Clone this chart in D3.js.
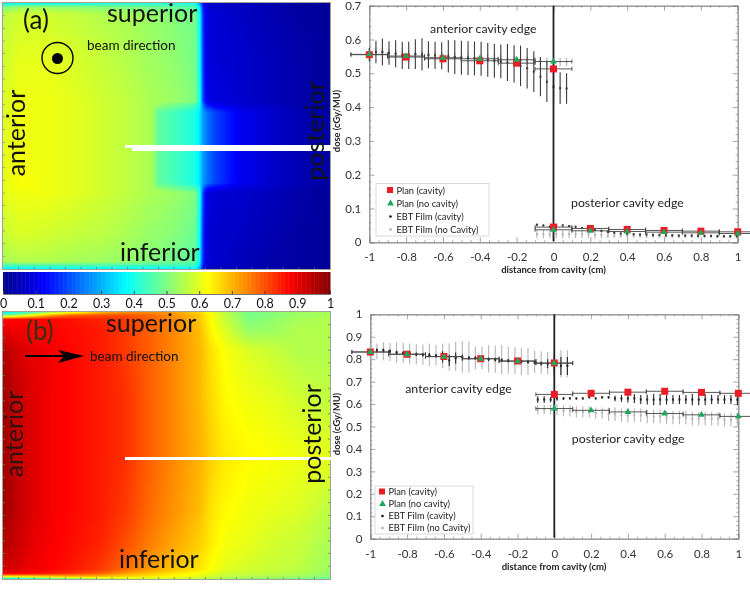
<!DOCTYPE html>
<html><head><meta charset="utf-8">
<script src="https://cdn.jsdelivr.net/npm/d3@7"></script>
<style>
html,body{margin:0;padding:0;background:#fff;width:750px;height:591px;overflow:hidden}
#stage{position:relative;width:750px;height:591px;filter:blur(0.35px)}
canvas{position:absolute}
svg{position:absolute;left:0;top:0}
text{font-family:Lato,"Open Sans",sans-serif}
</style></head><body><div id="stage"></div>
<script>
// ---------- colour bar ----------
const jetStops = [0, 0.125, 0.375, 0.625, 0.875, 1];
const jetColors = ["#00008f", "#0000ff", "#00ffff", "#ffff00", "#ff0000", "#800000"];
const barTicks = [0, 0.1, 0.2, 0.3, 0.4, 0.5, 0.6, 0.7, 0.8, 0.9, 1];

// ---------- film dose map (a), percent of panel width / height ----------
const mapAx = [0, 5.2, 12.8, 20.5, 29.7, 38.8, 45.6, 47.4, 54.1, 58.7, 60.2, 61.2, 62.4, 64.8, 72.5, 81.7, 90.8, 100];
const mapAy = [0, 1.5, 4.1, 21.4, 36.8, 38.3, 41, 54.1, 67.7, 69.9, 71.4, 87.2, 97.4, 98.9, 100];
const mapA = [
 [.39,.39,.40,.40,.41,.41,.41,.41,.41,.40,.28,.13,.07,.06,.05,.04,.02,.01],
 [.50,.53,.53,.52,.51,.50,.49,.49,.47,.46,.36,.16,.08,.07,.06,.04,.02,.01],
 [.56,.58,.58,.57,.55,.54,.52,.52,.50,.49,.39,.18,.09,.08,.06,.04,.02,.01],
 [.58,.60,.60,.59,.57,.55,.53,.53,.51,.49,.39,.19,.09,.08,.07,.05,.03,.01],
 [.59,.61,.61,.60,.58,.56,.54,.54,.52,.50,.40,.20,.10,.09,.07,.05,.03,.01],
 [.59,.61,.61,.60,.58,.56,.54,.52,.48,.45,.38,.24,.15,.11,.08,.06,.03,.01],
 [.59,.61,.61,.60,.58,.56,.54,.47,.43,.40,.35,.28,.24,.19,.11,.07,.04,.02],
 [.60,.61,.61,.60,.58,.56,.54,.47,.43,.40,.35,.28,.24,.19,.11,.07,.04,.02],
 [.60,.62,.61,.60,.58,.56,.54,.47,.43,.40,.35,.28,.24,.19,.11,.07,.04,.02],
 [.60,.62,.61,.60,.58,.56,.54,.52,.48,.45,.38,.23,.14,.11,.08,.06,.03,.01],
 [.60,.61,.61,.60,.58,.56,.54,.54,.52,.50,.40,.20,.09,.08,.07,.05,.03,.01],
 [.57,.59,.58,.57,.56,.54,.52,.52,.50,.48,.38,.18,.08,.07,.06,.04,.02,.01],
 [.54,.55,.55,.54,.53,.52,.50,.50,.48,.47,.37,.17,.08,.07,.05,.03,.02,.01],
 [.44,.45,.45,.45,.45,.44,.44,.44,.44,.43,.33,.15,.07,.06,.05,.03,.02,.01],
 [.38,.38,.38,.38,.38,.38,.38,.38,.38,.38,.29,.13,.06,.05,.04,.03,.02,.01]
];

// ---------- film dose map (b) ----------
const mapBx = [0, 3.7, 8.3, 14.4, 20.5, 29.7, 37.3, 45, 52.6, 60.2, 63.9, 67.9, 75.5, 83.2, 90.8, 100];
const mapBy = [0, 1.1, 2.6, 6.7, 14.2, 33, 53.6, 74.2, 87.3, 96.6, 98.1, 99.3, 100];
const mapB = [
 [.38,.40,.45,.55,.62,.70,.74,.74,.72,.66,.61,.56,.49,.51,.53,.54],
 [.50,.55,.62,.72,.78,.80,.80,.77,.73,.68,.62,.57,.49,.51,.53,.54],
 [.86,.87,.87,.87,.86,.84,.82,.78,.74,.68,.62,.57,.50,.52,.54,.55],
 [.90,.89,.88,.875,.865,.85,.82,.78,.74,.69,.63,.59,.52,.53,.55,.55],
 [.95,.92,.90,.885,.87,.85,.82,.78,.74,.695,.65,.62,.59,.57,.55,.55],
 [.97,.94,.91,.885,.87,.85,.83,.78,.74,.695,.66,.63,.61,.60,.58,.56],
 [.97,.94,.91,.885,.87,.85,.83,.78,.74,.70,.67,.645,.63,.62,.61,.60],
 [.97,.94,.91,.885,.87,.85,.82,.77,.73,.69,.65,.63,.61,.60,.59,.56],
 [.95,.93,.90,.88,.865,.84,.80,.75,.71,.67,.64,.615,.60,.58,.57,.54],
 [.92,.91,.89,.875,.855,.82,.77,.72,.68,.65,.62,.60,.58,.57,.56,.53],
 [.88,.88,.87,.85,.83,.78,.72,.68,.65,.62,.60,.58,.57,.56,.55,.52],
 [.62,.63,.64,.66,.68,.68,.66,.64,.62,.60,.58,.56,.55,.54,.53,.50],
 [.42,.42,.44,.48,.52,.56,.58,.58,.58,.56,.55,.54,.52,.52,.50,.48]
];

// ---------- line profile data ----------
const xTicks = [-1, -0.8, -0.6, -0.4, -0.2, 0, 0.2, 0.4, 0.6, 0.8, 1];
const xMinor = [-.95,-.9,-.85,-.75,-.7,-.65,-.55,-.5,-.45,-.35,-.3,-.25,-.15,-.1,-.05,.05,.1,.15,.25,.3,.35,.45,.5,.55,.65,.7,.75,.85,.9,.95];
const yTicksTop = [0, 0.1, 0.2, 0.3, 0.4, 0.5, 0.6, 0.7];
const yTicksBottom = [0, 0.1, 0.2, 0.3, 0.4, 0.5, 0.6, 0.7, 0.8, 0.9, 1];
const yMinor = [.02,.04,.06,.08,.12,.14,.16,.18,.22,.24,.26,.28,.32,.34,.36,.38,.42,.44,.46,.48,.52,.54,.56,.58,.62,.64,.66,.68,.72,.74,.76,.78,.82,.84,.86,.88,.92,.94,.96,.98];

const planXant = [-1, -0.8, -0.6, -0.4, -0.2, 0];
const planXpost = [0, 0.2, 0.4, 0.6, 0.8, 1];
const planHalfWidth = 0.1;

const filmXant = [-1,-.964,-.929,-.893,-.857,-.821,-.786,-.75,-.714,-.679,-.643,-.607,-.571,-.536,-.5,-.464,-.429,-.393,-.357,-.321,-.286,-.25,-.214,-.179,-.143,-.107,-.071,-.036,0,.036,.071];
const filmXpost = [-.09,-.055,-.02,.015,.05,.085,.12,.155,.19,.225,.26,.295,.33,.365,.40,.435,.47,.505,.54,.575,.61,.645,.68,.715,.75,.785,.82,.855,.89,.925,.96,.995];

// panel (a) profiles
const aPlanCavAnt = [.555,.548,.543,.537,.53,.513];
const aPlanNoAnt = [.556,.551,.546,.543,.54,.535];
const aPlanCavPost = [.045,.041,.038,.035,.033,.031];
const aPlanNoPost = [.037,.034,.032,.03,.028,.026];
const aFilmCavAnt = [.555,.563,.563,.56,.558,.553,.553,.557,.556,.555,.553,.552,.55,.548,.546,.545,.544,.543,.54,.537,.535,.532,.528,.522,.515,.505,.49,.475,.46,.456,.455];
const aFilmCavAntErr = [.02,.033,.04,.035,.04,.04,.04,.044,.048,.04,.04,.04,.048,.05,.05,.05,.05,.05,.05,.05,.05,.055,.055,.06,.06,.06,.058,.06,.05,.047,.045];
const aFilmNoAnt = [.56,.565,.565,.56,.558,.557,.556,.556,.555,.553,.552,.551,.55,.549,.548,.547,.546,.545,.544,.543,.542,.541,.54,.539,.538,.537,.536,.535,.534,.533,.533];
const aFilmNoAntErr = [.012,.012,.012,.012,.012,.012,.012,.012,.012,.012,.012,.012,.012,.012,.012,.012,.012,.012,.012,.012,.012,.012,.012,.012,.012,.012,.012,.012,.012,.012,.012];
const aFilmCavPost = [.052,.05,.046,.05,.05,.048,.046,.042,.04,.037,.034,.031,.028,.026,.025,.024,.023,.023,.022,.022,.021,.021,.02,.02,.02,.019,.019,.019,.018,.018,.018,.018];
const aFilmCavPostErr = [.003,.003,.003,.003,.003,.003,.003,.003,.003,.003,.003,.003,.003,.003,.003,.003,.003,.003,.003,.003,.003,.003,.003,.003,.003,.003,.003,.003,.003,.003,.003,.003];
const aFilmNoPost = [.024,.024,.024,.024,.024,.024,.024,.024,.023,.022,.021,.02,.019,.018,.018,.018,.018,.017,.017,.017,.017,.017,.017,.017,.017,.017,.017,.017,.017,.017,.017,.017];
const aFilmNoPostErr = [.012,.012,.012,.012,.012,.012,.012,.012,.012,.011,.01,.008,.006,.004,.004,.004,.004,.004,.004,.004,.004,.004,.004,.004,.004,.004,.004,.004,.004,.004,.004,.004];

// panel (b) profiles
const bPlanCavAnt = [.832,.822,.812,.802,.792,.783];
const bPlanNoAnt = [.832,.822,.811,.802,.791,.782];
const bPlanCavPost = [.643,.648,.653,.657,.652,.648];
const bPlanNoPost = [.58,.572,.565,.558,.552,.545];
const bFilmNoAnt = [.833,.835,.835,.832,.83,.828,.825,.822,.82,.82,.818,.815,.81,.812,.81,.81,.806,.805,.802,.80,.798,.795,.793,.79,.79,.788,.785,.782,.78,.78,.78];
const bFilmNoAntErr = [.035,.035,.04,.04,.045,.045,.045,.045,.045,.05,.045,.055,.06,.065,.07,.07,.05,.05,.06,.06,.065,.06,.06,.06,.06,.05,.05,.05,.05,.06,.06];
const bFilmCavAnt = [.835,.84,.84,.835,.83,.827,.825,.822,.82,.818,.815,.81,.795,.805,.81,.805,.805,.803,.80,.798,.795,.793,.79,.79,.788,.785,.78,.78,.775,.77,.77];
const bFilmCavAntErr = [.008,.008,.008,.008,.008,.008,.008,.008,.008,.008,.008,.025,.025,.025,.008,.008,.008,.008,.008,.008,.008,.008,.008,.008,.008,.008,.008,.02,.04,.04,.04];
const bFilmCavPost = [.62,.62,.62,.625,.625,.625,.625,.625,.63,.625,.63,.63,.625,.625,.625,.625,.62,.62,.62,.62,.62,.62,.62,.62,.62,.62,.62,.62,.62,.62,.62,.62];
const bFilmCavPostErr = [.015,.015,.012,.01,.006,.004,.005,.005,.004,.004,.005,.005,.012,.015,.018,.02,.02,.022,.025,.025,.022,.02,.02,.02,.025,.025,.025,.02,.02,.02,.02,.025];
const bFilmNoPost = [.575,.575,.575,.575,.57,.57,.565,.565,.565,.56,.56,.555,.555,.55,.55,.55,.55,.545,.545,.545,.54,.54,.54,.54,.535,.535,.535,.535,.535,.53,.53,.53];
const bFilmNoPostErr = [.022,.022,.022,.025,.025,.025,.025,.025,.025,.025,.025,.03,.03,.03,.03,.03,.03,.03,.03,.03,.03,.03,.03,.03,.03,.03,.03,.03,.03,.03,.03,.03];

const legendLabels = ["Plan (cavity)", "Plan (no cavity)", "EBT Film (cavity)", "EBT Film (no Cavity)"];

// ---------- drawing ----------
const jet = d3.scaleLinear().domain(jetStops).range(jetColors).clamp(true);
const stage = d3.select("#stage");
const svg = stage.append("svg").attr("width", 750).attr("height", 591).style("z-index", 2);

function drawMap(xs, ys, grid, box) {
  const cv = stage.append("canvas").attr("width", box.w).attr("height", box.h)
    .style("left", box.x + "px").style("top", box.y + "px").node();
  const ctx = cv.getContext("2d"), img = ctx.createImageData(box.w, box.h);
  const pxX = d3.scaleLinear().domain([0, box.w - 1]).range([0, 100]);
  const pxY = d3.scaleLinear().domain([0, box.h - 1]).range([0, 100]);
  const ix = d3.scaleLinear().domain(xs).range(d3.range(xs.length));
  const iy = d3.scaleLinear().domain(ys).range(d3.range(ys.length));
  for (let j = 0; j < box.h; j++) {
    const fy = iy(pxY(j)), y0 = Math.min(Math.floor(fy), ys.length - 2), ty = fy - y0;
    for (let i = 0; i < box.w; i++) {
      const fx = ix(pxX(i)), x0 = Math.min(Math.floor(fx), xs.length - 2), tx = fx - x0;
      const v = (grid[y0][x0] * (1 - tx) + grid[y0][x0 + 1] * tx) * (1 - ty) +
                (grid[y0 + 1][x0] * (1 - tx) + grid[y0 + 1][x0 + 1] * tx) * ty;
      const c = d3.rgb(jet(v)), k = (j * box.w + i) * 4;
      img.data[k] = c.r; img.data[k + 1] = c.g; img.data[k + 2] = c.b; img.data[k + 3] = 255;
    }
  }
  ctx.putImageData(img, 0, 0);
  // small ticks along the film edges
  const g = svg.append("g");
  const sx = d3.scaleLinear().domain([0, 100]).range([box.x, box.x + box.w]);
  const sy = d3.scaleLinear().domain([0, 100]).range([box.y, box.y + box.h]);
  const tickPct = d3.range(0, 101, 100 / 21).slice(1, -1);
  g.selectAll(".l").data(tickPct).join("line").attr("class", "l")
    .attr("x1", box.x - 0.5).attr("x2", box.x + 2).attr("y1", d => sy(d)).attr("y2", d => sy(d))
    .attr("stroke", "#7d8a60").attr("stroke-width", 0.7);
  g.selectAll(".b").data(tickPct).join("line").attr("class", "b")
    .attr("y1", box.y + box.h - 2).attr("y2", box.y + box.h).attr("x1", d => sx(d)).attr("x2", d => sx(d))
    .attr("stroke", "#5a6a60").attr("stroke-width", 0.7);
  if (box.right) g.selectAll(".r").data(tickPct).join("line").attr("class", "r")
    .attr("x1", box.x + box.w - 2).attr("x2", box.x + box.w).attr("y1", d => sy(d)).attr("y2", d => sy(d))
    .attr("stroke", "#5a6a50").attr("stroke-width", 0.7);
  g.append("rect").attr("x", box.x - .5).attr("y", box.y - .5).attr("width", box.w + 1).attr("height", box.h + 1)
    .attr("fill", "none").attr("stroke", "#8a8a7a").attr("stroke-width", 0.8);
}

drawMap(mapAx, mapAy, mapA, {x: 3, y: 3, w: 327, h: 266});
drawMap(mapBx, mapBy, mapB, {x: 3, y: 312, w: 327, h: 267, right: true});

// colour bar
const cbX = d3.scaleLinear().domain([0, 1]).range([3, 330]);
svg.append("g").selectAll("rect").data(d3.range(0, 1, 0.004)).join("rect")
  .attr("x", d => cbX(d)).attr("y", 272).attr("width", cbX(0.004) - cbX(0) + 0.5).attr("height", 22)
  .attr("fill", d => jet(d));
const cbAxis = svg.append("g").attr("transform", "translate(0,294)")
  .call(d3.axisBottom(cbX).tickValues(barTicks).tickFormat(d => String(d)).tickSize(-3).tickPadding(5));
cbAxis.select(".domain").attr("stroke", "#777");
cbAxis.selectAll("line").attr("stroke", "#444");
cbAxis.selectAll("text").attr("font-size", 12.5).attr("fill", "#111");

function label(t, x, y, size, opts = {}) {
  const e = svg.append("text").text(t).attr("font-size", size).attr("fill", opts.fill || "#111")
    .attr("text-anchor", opts.anchor || "start").attr("font-weight", opts.weight || 400);
  if (opts.rot) e.attr("transform", `translate(${x},${y}) rotate(-90)`).attr("text-anchor", "middle").attr("dominant-baseline", "middle");
  else e.attr("x", x).attr("y", y);
  return e;
}

// slits
svg.append("rect").attr("x", 125).attr("y", 145).attr("width", 206).attr("height", 3).attr("fill", "#fff");
svg.append("rect").attr("x", 132).attr("y", 145).attr("width", 199).attr("height", 6).attr("fill", "#fff");
svg.append("rect").attr("x", 125).attr("y", 457).attr("width", 206).attr("height", 3).attr("fill", "#fff");

// annotations on map (a)
label("(a)", 23, 29, 26);
label("superior", 107, 22, 25);
label("beam direction", 87, 50, 13.5);
label("anterior", 19, 133, 25, {rot: true});
label("posterior", 318, 131, 25, {rot: true});
label("inferior", 120, 261, 25);
svg.append("circle").attr("cx", 57.5).attr("cy", 58).attr("r", 15.5).attr("fill", "none").attr("stroke", "#000").attr("stroke-width", 1.4);
svg.append("circle").attr("cx", 57.5).attr("cy", 58.5).attr("r", 5.5).attr("fill", "#000");

// annotations on map (b)
label("(b)", 26, 340, 26, {fill: "#331"});
label("superior", 106, 332, 25);
label("beam direction", 90, 361, 13.5);
label("anterior", 17, 434, 25, {rot: true, fill: "#311"});
label("posterior", 315, 434, 25, {rot: true});
label("inferior", 119, 568, 25);
svg.append("line").attr("x1", 25).attr("x2", 70).attr("y1", 356).attr("y2", 356).attr("stroke", "#000").attr("stroke-width", 2);
svg.append("path").attr("d", "M58,350 L84,356 L58,363 L64,356 Z").attr("fill", "#000");

function profile(cfg) {
  const x = d3.scaleLinear().domain([-1, 1]).range(cfg.xr);
  const y = d3.scaleLinear().domain([0, cfg.ymax]).range(cfg.yr);
  const g = svg.append("g");
  const axisColor = "#8c8c8c";
  const mk = (fn, vals, size, cls, tr, pad, fmt) => {
    const a = g.append("g").attr("class", cls).attr("transform", tr)
      .call(fn.tickValues(vals).tickSize(size).tickPadding(pad).tickFormat(fmt));
    a.select(".domain").attr("stroke", axisColor).attr("stroke-width", 0.9);
    a.selectAll("line").attr("stroke", axisColor).attr("stroke-width", 0.8);
    a.selectAll("text").attr("font-size", 11.5).attr("fill", "#333");
  };
  const minorY = yMinor.filter(d => d < cfg.ymax);
  const bl = `translate(0,${cfg.yr[0]})`, tp = `translate(0,${cfg.yr[1]})`;
  const lf = `translate(${cfg.xr[0]},0)`, rt = `translate(${cfg.xr[1]},0)`;
  mk(d3.axisBottom(x), xTicks, -5, "xa", bl, 11, d => String(d));
  mk(d3.axisBottom(x), xMinor, -2, "xb", bl, 0, () => "");
  mk(d3.axisTop(x), xTicks, -5, "xc", tp, 0, () => "");
  mk(d3.axisTop(x), xMinor, -2, "xd", tp, 0, () => "");
  mk(d3.axisLeft(y), cfg.yTicks, -5, "ya", lf, 8, d => String(d));
  mk(d3.axisLeft(y), minorY, -2, "yb", lf, 0, () => "");
  mk(d3.axisRight(y), cfg.yTicks, -5, "yc", rt, 0, () => "");
  mk(d3.axisRight(y), minorY, -2, "yd", rt, 0, () => "");

  // film series with error bars
  const film = (xs, ys, errs, color, w, dot) => {
    const s = g.append("g");
    s.selectAll("line").data(xs).join("line")
      .attr("x1", d => x(d)).attr("x2", d => x(d))
      .attr("y1", (d, i) => y(ys[i] - errs[i])).attr("y2", (d, i) => y(ys[i] + errs[i]))
      .attr("stroke", color).attr("stroke-width", w);
    s.selectAll("rect").data(xs).join("rect")
      .attr("x", d => x(d) - dot / 2).attr("y", (d, i) => y(ys[i]) - dot / 2)
      .attr("width", dot).attr("height", dot).attr("fill", color);
  };
  cfg.gray.forEach(f => film(f[0], f[1], f[2], "#b4b4b4", 1.1, 2));
  cfg.black.forEach(f => film(f[0], f[1], f[2], cfg.blackBar, 1.1, 2));

  // plan step segments
  const seg = (xs, ys) => {
    const s = g.append("g").attr("stroke", "#444").attr("stroke-width", 0.9);
    s.selectAll(".h").data(xs).join("line").attr("class", "h")
      .attr("x1", d => x(d - planHalfWidth)).attr("x2", d => x(d + planHalfWidth))
      .attr("y1", (d, i) => y(ys[i])).attr("y2", (d, i) => y(ys[i]));
    s.selectAll(".a").data(xs).join("line").attr("class", "a")
      .attr("x1", d => x(d - planHalfWidth)).attr("x2", d => x(d - planHalfWidth))
      .attr("y1", (d, i) => y(ys[i]) - 2).attr("y2", (d, i) => y(ys[i]) + 2);
    s.selectAll(".b").data(xs).join("line").attr("class", "b")
      .attr("x1", d => x(d + planHalfWidth)).attr("x2", d => x(d + planHalfWidth))
      .attr("y1", (d, i) => y(ys[i]) - 2).attr("y2", (d, i) => y(ys[i]) + 2);
  };
  cfg.plans.forEach(p => seg(p[0], p[1]));

  // centre line
  g.append("line").attr("x1", x(0)).attr("x2", x(0)).attr("y1", cfg.yr[1]).attr("y2", cfg.yr[0] - 1)
    .attr("stroke", "#222").attr("stroke-width", 1.8);

  // plan markers
  const square = (px, py) => g.append("rect").attr("x", px - 3.5).attr("y", py - 3.5).attr("width", 7).attr("height", 7).attr("fill", "#ed1c24");
  const tri = (px, py) => g.append("path").attr("transform", `translate(${px},${py})`).attr("d", d3.symbol(d3.symbolTriangle, 20)).attr("fill", "#1fa85c");
  cfg.reds.forEach(p => p[0].forEach((d, i) => square(x(d), y(p[1][i]))));
  cfg.greens.forEach(p => p[0].forEach((d, i) => tri(x(d), y(p[1][i]))));

  // text
  cfg.notes.forEach(n => label(n[0], x(n[1]), y(n[2]), 12.3, {fill: "#222"}));
  label("distance from cavity (cm)", cfg.xLabel[0], cfg.xLabel[1], 9.5, {anchor: "middle", weight: 700, fill: "#222"});
  label("dose (cGy/MU)", cfg.yLabel[0], cfg.yLabel[1], 9.3, {rot: true, weight: 700, fill: "#222"});

  // legend
  const L = cfg.legend;
  g.append("rect").attr("x", L.x).attr("y", L.y).attr("width", L.w).attr("height", L.h)
    .attr("fill", "#fff").attr("stroke", "#d9d9d9").attr("stroke-width", 1);
  legendLabels.forEach((t, i) => {
    const ry = L.y + L.first + i * L.step, mx = L.tx - 6;
    if (i === 0) square(mx, ry).attr("width", 6).attr("height", 6);
    if (i === 1) tri(mx, ry);
    if (i === 2) g.append("circle").attr("cx", mx).attr("cy", ry).attr("r", 1.3).attr("fill", "#111");
    if (i === 3) g.append("circle").attr("cx", mx).attr("cy", ry).attr("r", 1.3).attr("fill", "#aaa");
    label(t, L.tx, ry + 3, L.size, {fill: "#222"});
  });
}

profile({
  xr: [369.3, 737.7], yr: [242.3, 5.7], ymax: 0.7, yTicks: yTicksTop, blackBar: "#3a3a3a",
  gray: [[filmXant, aFilmNoAnt, aFilmNoAntErr], [filmXpost, aFilmNoPost, aFilmNoPostErr]],
  black: [[filmXant, aFilmCavAnt, aFilmCavAntErr], [filmXpost, aFilmCavPost, aFilmCavPostErr]],
  plans: [[planXant, aPlanCavAnt], [planXant, aPlanNoAnt], [planXpost, aPlanCavPost], [planXpost, aPlanNoPost]],
  reds: [[planXant, aPlanCavAnt], [planXpost, aPlanCavPost]],
  greens: [[planXant, aPlanNoAnt], [planXpost, aPlanNoPost]],
  notes: [["anterior cavity edge", -0.67, 0.62], ["posterior cavity edge", 0.095, 0.105]],
  xLabel: [553.5, 273], yLabel: [338, 121],
  legend: {x: 376, y: 183.5, w: 113, h: 52.5, first: 7, step: 13, tx: 396.5, size: 9.3}
});
profile({
  xr: [370.3, 738.3], yr: [538.7, 314.3], ymax: 1, yTicks: yTicksBottom, blackBar: "#222",
  gray: [[filmXant, bFilmNoAnt, bFilmNoAntErr], [filmXpost, bFilmNoPost, bFilmNoPostErr]],
  black: [[filmXant, bFilmCavAnt, bFilmCavAntErr], [filmXpost, bFilmCavPost, bFilmCavPostErr]],
  plans: [[planXant, bPlanCavAnt], [planXant, bPlanNoAnt], [planXpost, bPlanCavPost], [planXpost, bPlanNoPost]],
  reds: [[planXant, bPlanCavAnt], [planXpost, bPlanCavPost]],
  greens: [[planXant, bPlanNoAnt], [planXpost, bPlanNoPost]],
  notes: [["anterior cavity edge", -0.81, 0.65], ["posterior cavity edge", 0.095, 0.425]],
  xLabel: [554, 570], yLabel: [338, 424],
  legend: {x: 375, y: 486, w: 98, h: 48, first: 6, step: 12, tx: 388.5, size: 9.3}
});
</script></body></html>
